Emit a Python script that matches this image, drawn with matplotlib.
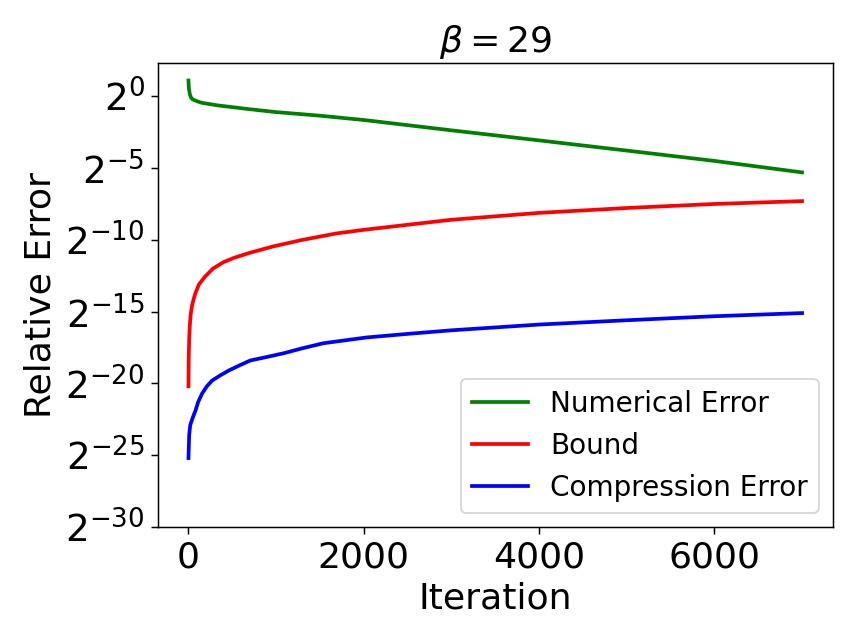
import numpy as np
import matplotlib
matplotlib.use("Agg")
import matplotlib.pyplot as plt
from matplotlib.ticker import NullLocator

# values, stored as log2 exponents
num_iter = [0, 2, 5, 15, 30, 50, 100, 150, 330, 700, 1000, 1500, 2000, 3000,
            4000, 5000, 6000, 7000]
num_exp = [1.1, 0.8, 0.55, 0.15, -0.1, -0.22, -0.35, -0.45, -0.63, -0.9, -1.1,
           -1.35, -1.65, -2.37, -3.07, -3.78, -4.5, -5.3]

bound_iter = [0, 3, 8, 15, 25, 40, 60, 80, 120, 190, 280, 400, 520, 700, 970,
              1300, 1690, 2000, 2500, 3000, 4000, 5000, 6000, 7000]
bound_exp = [-20.2, -18.2, -16.9, -16.0, -15.2, -14.6, -14.1, -13.7, -13.1,
             -12.55, -12.0, -11.55, -11.25, -10.9, -10.45, -10.0, -9.55, -9.3,
             -8.95, -8.6, -8.12, -7.78, -7.5, -7.3]

comp_iter = [0, 8, 20, 42, 60, 80, 110, 156, 210, 270, 360, 460, 580, 706, 900,
             1085, 1300, 1540, 2030, 2500, 3000, 3500, 4000, 5000, 6000, 7000]
comp_exp = [-25.2, -23.6, -22.9, -22.5, -22.2, -21.9, -21.3, -20.7, -20.2,
            -19.8, -19.45, -19.1, -18.75, -18.4, -18.15, -17.9, -17.55, -17.2,
            -16.8, -16.55, -16.3, -16.1, -15.9, -15.6, -15.32, -15.1]

ytick_exp = [0, -5, -10, -15, -20, -25, -30]

fig = plt.figure(figsize=(6.4, 4.8), dpi=134)
ax = fig.add_axes([0.184, 0.1804, 0.787, 0.722])

ax.plot(num_iter, 2.0 ** np.array(num_exp), color="green", lw=2,
        label="Numerical Error")
ax.plot(bound_iter, 2.0 ** np.array(bound_exp), color="red", lw=2,
        label="Bound")
ax.plot(comp_iter, 2.0 ** np.array(comp_exp), color="blue", lw=2,
        label="Compression Error")

ax.set_yscale("log", base=2)
ax.set_yticks([2.0 ** e for e in ytick_exp])
ax.set_yticklabels([f"$2^{{{e}}}$" for e in ytick_exp])
ax.yaxis.set_minor_locator(NullLocator())
ax.set_ylim(2.0 ** -30, 2.0 ** 2.35)
ax.set_xlim(-350, 7350)
ax.set_xticks([0, 2000, 4000, 6000])

ax.tick_params(axis="x", labelsize=19.5)
ax.tick_params(axis="y", labelsize=20)
ax.set_xlabel("Iteration", fontsize=19.5)
ax.set_ylabel("Relative Error", fontsize=19.5)
ax.set_title(r"$\beta = 29$", fontsize=19.5)
ax.legend(loc="lower right", fontsize=15)

fig.savefig("out.png", dpi=134)
